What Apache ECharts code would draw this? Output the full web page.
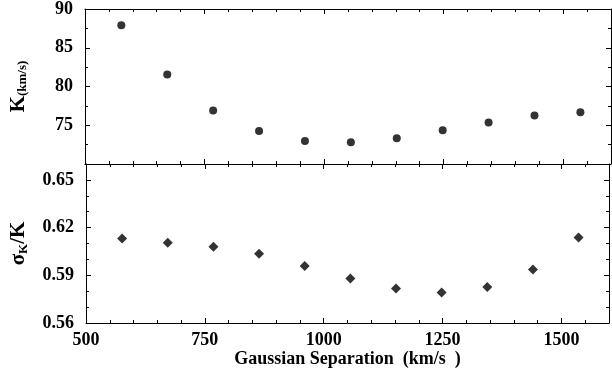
<!DOCTYPE html>
<html>
<head>
<meta charset="utf-8">
<script src="https://cdn.jsdelivr.net/npm/echarts@6/dist/echarts.min.js"></script>
<style>
  html, body { margin: 0; padding: 0; background: #fff; }
  #main { width: 612px; height: 375px; }
</style>
</head>
<body>
<div id="main"></div>
<script>
// Gaussian separation (km/s) shared by both panels
const separation = [576, 672, 768, 864, 960, 1056, 1152, 1248, 1344, 1440, 1536];
// top panel: K (km/s)
const kValues = [87.9, 81.55, 76.9, 74.25, 72.98, 72.82, 73.33, 74.37, 75.37, 76.25, 76.67];
// bottom panel: sigma_K / K
const sigmaRatio = [0.6132, 0.6104, 0.6079, 0.6035, 0.5959, 0.588, 0.5817, 0.5792, 0.5827, 0.5937, 0.6138];
const xTicks = [500, 750, 1000, 1250, 1500];
const kTicks = [75, 80, 85, 90];
const ratioTicks = [0.56, 0.59, 0.62, 0.65];

let myChart = echarts.init(document.getElementById("main"));

const font = "'Liberation Serif', 'Times New Roman', serif";
const black = "#000";

// common look for every axis: black frame line, inside ticks
function frameAxis(extra) {
  return Object.assign({
    axisLine: { show: true, onZero: false, lineStyle: { color: black, width: 1 } },
    axisTick: { show: true, inside: true, length: 5, lineStyle: { color: black } },
    minorTick: { show: true, length: 3, lineStyle: { color: black } },
    splitLine: { show: false },
    axisLabel: { show: false }
  }, extra);
}

const labelStyle = { color: black, fontFamily: font, fontWeight: "bold", fontSize: 18 };

function onList(list, v) {
  return list.some((t) => Math.abs(t - v) < 1e-6);
}

const xBase = { type: "value", min: 500, max: 1600, interval: 250, minorTick: { show: true, splitNumber: 5, length: 3, lineStyle: { color: black } } };
const kBase = { type: "value", min: 70, max: 90, interval: 5, minorTick: { show: true, splitNumber: 2, length: 3, lineStyle: { color: black } } };
const rBase = { type: "value", min: 0.56, max: 0.66, interval: 0.03, minorTick: { show: true, splitNumber: 3, length: 3, lineStyle: { color: black } } };

function merge(a, b) {
  const o = frameAxis(b);
  o.minorTick = a.minorTick;
  return Object.assign(o, { type: a.type, min: a.min, max: a.max, interval: a.interval });
}

let options = {
  animation: false,
  backgroundColor: "#fff",
  grid: [
    { left: 79, right: 1, top: 6, height: 158 },
    { left: 79, right: 1, top: 164, bottom: 52 }
  ],
  xAxis: [
    merge(xBase, { gridIndex: 0, position: "bottom" }),
    merge(xBase, { gridIndex: 0, position: "top" }),
    merge(xBase, {
      gridIndex: 1, position: "bottom",
      axisLabel: Object.assign({ show: true, margin: 8,
        formatter: (v) => (onList(xTicks, v) ? String(v) : "") }, labelStyle),
      name: "Gaussian Separation  (km/s  )",
      nameLocation: "middle",
      nameGap: 25,
      nameTextStyle: { color: black, fontFamily: font, fontWeight: "bold", fontSize: 18 }
    }),
    merge(xBase, { gridIndex: 1, position: "top" })
  ],
  yAxis: [
    merge(kBase, {
      gridIndex: 0, position: "left",
      axisLabel: Object.assign({ show: true, margin: 12,
        formatter: (v) => (onList(kTicks, v) ? String(v) : "") }, labelStyle),
      name: "{k|K}{s|(km/s)}",
      nameLocation: "middle",
      nameRotate: 90,
      nameGap: 56,
      nameTextStyle: {
        rich: {
          k: { fontFamily: font, fontWeight: "bold", fontSize: 21, color: black },
          s: { fontFamily: font, fontWeight: "bold", fontSize: 13, color: black, padding: [8, 0, 0, 0] }
        }
      }
    }),
    merge(kBase, { gridIndex: 0, position: "right" }),
    merge(rBase, {
      gridIndex: 1, position: "left",
      axisLabel: Object.assign({ show: true, margin: 12,
        formatter: (v) => (onList(ratioTicks, v) ? v.toFixed(2) : "") }, labelStyle),
      name: "{g|σ}{s|K}{k|/K}",
      nameLocation: "middle",
      nameRotate: 90,
      nameGap: 56,
      nameTextStyle: {
        rich: {
          g: { fontFamily: font, fontWeight: "bold", fontSize: 21, color: black },
          k: { fontFamily: font, fontWeight: "bold", fontSize: 21, color: black },
          s: { fontFamily: font, fontWeight: "bold", fontSize: 13, color: black, padding: [10, 0, 0, 0] }
        }
      }
    }),
    merge(rBase, { gridIndex: 1, position: "right" })
  ],
  series: [
    {
      name: "K",
      type: "scatter",
      xAxisIndex: 0,
      yAxisIndex: 0,
      symbol: "circle",
      symbolSize: 8,
      itemStyle: { color: black },
      data: separation.map((x, i) => [x, kValues[i]])
    },
    {
      name: "sigma/K",
      type: "scatter",
      xAxisIndex: 2,
      yAxisIndex: 2,
      symbol: "diamond",
      symbolSize: 10,
      itemStyle: { color: black },
      data: separation.map((x, i) => [x, sigmaRatio[i]])
    }
  ]
};
myChart.setOption(options);
</script>
</body>
</html>
